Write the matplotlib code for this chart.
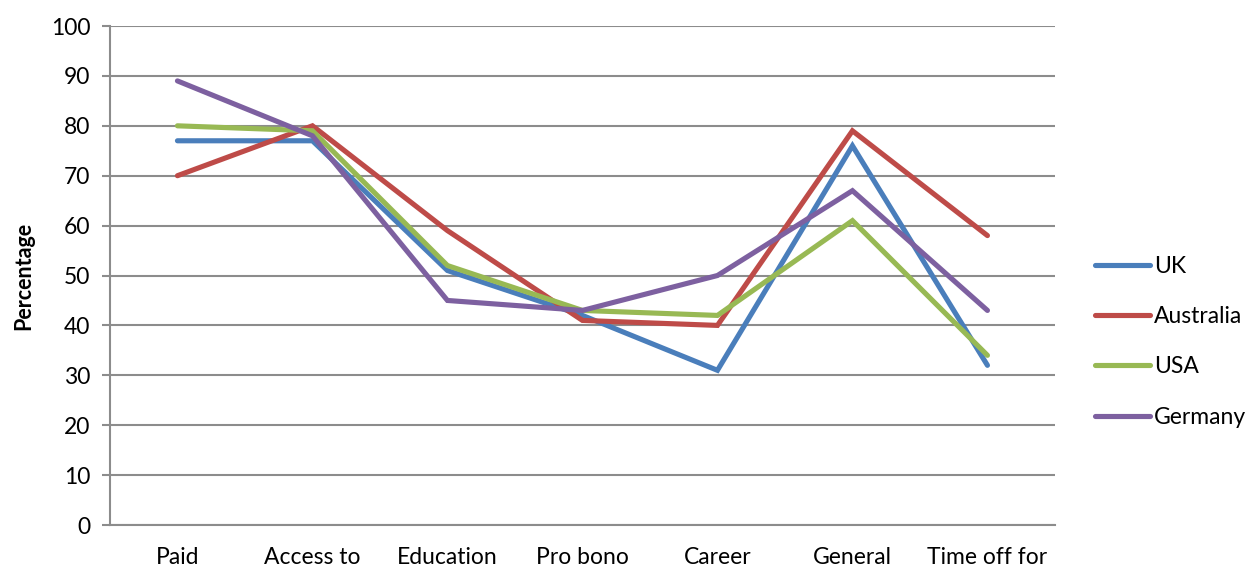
import matplotlib.pyplot as plt
import numpy as np

plt.rcParams["font.family"] = ["Lato", "DejaVu Sans"]

categories = ["Paid", "Access to", "Education", "Pro bono", "Career", "General", "Time off for"]
uk = [77, 77, 51, 42, 31, 76, 32]
australia = [70, 80, 59, 41, 40, 79, 58]
usa = [80, 79, 52, 43, 42, 61, 34]
germany = [89, 78, 45, 43, 50, 67, 43]

series = [
    ("UK", uk, "#4A7EBB"),
    ("Australia", australia, "#BE4B48"),
    ("USA", usa, "#98B954"),
    ("Germany", germany, "#7D60A0"),
]

fig = plt.figure(figsize=(12.55, 5.68), dpi=100)
ax = fig.add_axes([0.0876, 0.0757, 0.753, 0.8785])

x = np.arange(len(categories))
for name, vals, col in series:
    ax.plot(x, vals, color=col, linewidth=3.7, label=name,
            solid_capstyle="round", solid_joinstyle="miter")

ax.set_xlim(-0.5, len(categories) - 0.5)
ax.set_ylim(0, 100)
ax.set_yticks(np.arange(0, 101, 10))
ax.set_xticks(x)
ax.set_xticklabels(categories)
ax.grid(axis="y", color="#8c8c8c", linewidth=1.5)
ax.set_axisbelow(True)

for s in ["top", "right"]:
    ax.spines[s].set_visible(False)
for s in ["left", "bottom"]:
    ax.spines[s].set_color("#8c8c8c")
    ax.spines[s].set_linewidth(1.5)

ax.tick_params(axis="y", colors="#8c8c8c", length=6, width=1.5, labelsize=16.5, labelcolor="black", pad=8)
ax.tick_params(axis="x", length=0, labelsize=16.5, labelcolor="black", pad=16)

ax.set_ylabel("Percentage", fontsize=15.5, fontweight="bold", labelpad=12)

ax.legend(loc="center left", bbox_to_anchor=(1.042, 0.367), frameon=False,
          fontsize=16.5, handlelength=2.4, handletextpad=0.2, labelspacing=1.27,
          borderpad=0, borderaxespad=0)

fig.savefig("out.png", dpi=100)
